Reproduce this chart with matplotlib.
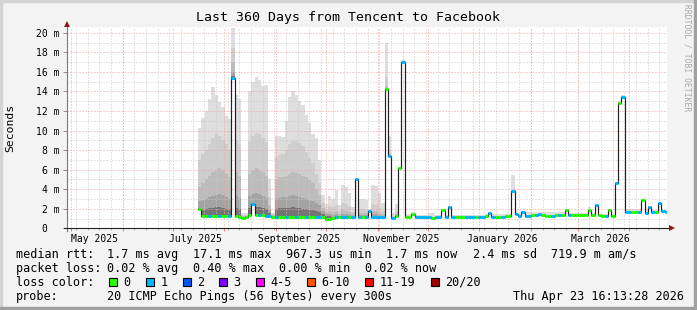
import matplotlib
matplotlib.use('Agg')
import matplotlib.pyplot as plt
import numpy as np
from datetime import datetime, timedelta
from matplotlib.patches import Rectangle
import matplotlib.transforms as mtrans

W, H = 697, 310
MONO = 'DejaVu Sans Mono'

# ---------------- data ----------------
graph_end = datetime(2026, 4, 23, 16, 13, 28)
graph_start = graph_end - timedelta(days=360)
first_bin = datetime(2025, 7, 16, 6, 37)
bin_days = 2.0

median_ms = [2.0, 1.25, 1.25, 1.3, 1.25, 1.25, 1.3, 1.25, 1.25, 1.3,
             15.4, 1.25, 1.2, 1.05, 1.15, 1.4, 2.5, 1.4, 1.4, 1.35,
             1.3, 1.25, 1.2, 1.2, 1.2, 1.2, 1.2, 1.2, 1.2, 1.2,
             1.2, 1.2, 1.2, 1.15, 1.2, 1.15, 1.15, 1.15, 1.0, 0.95,
             1.05, 1.15, 1.15, 1.2, 1.2, 1.2, 1.15, 5.0, 1.2, 1.2,
             1.2, 1.8, 1.2, 1.2, 1.15, 1.2, 14.3, 7.4, 1.1, 1.3,
             6.2, 17.0, 1.15, 1.2, 1.5, 1.15, 1.15, 1.2, 1.2, 1.15,
             1.1, 1.15, 1.2, 1.9, 1.2, 2.2, 1.2, 1.2, 1.2, 1.2,
             1.2, 1.15, 1.2, 1.15, 1.2, 1.15, 1.25, 1.6, 1.2, 1.2,
             1.2, 1.2, 1.25, 1.3, 3.8, 1.5, 1.25, 1.7, 1.3, 1.3,
             1.35, 1.4, 1.45, 1.35, 1.3, 1.25, 1.3, 1.35, 1.4, 1.4,
             1.9, 1.4, 1.35, 1.4, 1.4, 1.4, 1.4, 1.9, 1.4, 2.4,
             1.35, 1.3, 1.3, 1.9, 1.3, 4.6, 12.8, 13.4, 1.65, 1.65,
             1.7, 1.7, 1.7, 2.9, 1.6, 2.2, 1.7, 1.7, 2.6, 1.8, 1.7]

loss_bucket = [0, 0, 0, 1, 0, 0, 1, 0, 0, 1,
               1, 0, 0, 0, 0, 0, 1, 0, 1, 0,
               1, 1, 0, 1, 0, 0, 1, 0, 0, 1,
               0, 0, 1, 0, 0, 1, 1, 0, 0, 0,
               0, 1, 0, 1, 1, 0, 1, 1, 1, 0,
               1, 1, 1, 1, 1, 1, 0, 1, 1, 0,
               0, 1, 0, 0, 0, 1, 1, 1, 1, 1,
               0, 1, 1, 0, 1, 1, 1, 0, 0, 0,
               1, 1, 1, 0, 1, 1, 0, 1, 1, 0,
               0, 1, 0, 0, 1, 1, 1, 1, 1, 1,
               0, 1, 1, 0, 0, 0, 1, 0, 1, 0,
               0, 1, 0, 0, 0, 0, 0, 0, 0, 1,
               0, 0, 1, 0, 0, 1, 0, 1, 1, 1,
               0, 0, 1, 0, 1, 1, 1, 0, 1, 1, 1]

smoke_max = [10.3, 11.3, 12.0, 13.2, 14.5, 13.6, 12.9, 12.4, 11.5, 11.2,
             20.5, 13.6, 13.2, 1.6, 1.6, 14.0, 15.0, 15.5, 15.2, 14.6,
             14.7, 5.0, 1.6, 9.4, 9.4, 9.3, 11.0, 13.4, 14.0, 13.6,
             13.0, 12.6, 11.6, 10.8, 9.6, 9.2, 7.0, 3.4, 2.5, 3.3,
             3.0, 3.9, 2.4, 4.4, 4.2, 3.6, 2.2, 5.1, 3.0, 3.0,
             2.9, 2.0, 4.4, 4.3, 3.6, 2.6, 19.0, 9.4, 1.6, 2.5,
             6.3, 17.2, 1.5, 1.5, 1.7, 1.4, 1.4, 1.4, 1.4, 1.6,
             1.6, 1.4, 1.4, 2.0, 1.4, 2.3, 1.4, 1.4, 1.4, 1.4,
             1.4, 1.4, 1.4, 1.4, 1.4, 1.4, 1.5, 1.7, 1.45, 1.45,
             1.45, 1.45, 1.45, 1.45, 5.5, 1.8, 1.5, 1.8, 1.65, 1.65,
             1.65, 1.65, 1.65, 1.65, 1.65, 1.65, 1.65, 1.65, 1.65, 1.65,
             2.0, 1.6, 1.6, 1.6, 1.6, 1.6, 1.6, 2.2, 1.6, 2.5,
             1.5, 1.5, 1.5, 2.0, 1.5, 4.7, 13.0, 13.6, 2.0, 2.0,
             2.0, 2.0, 2.0, 3.0, 1.9, 2.3, 1.9, 1.9, 2.7, 1.9, 1.9]

# inner smoke layers (first 61 bins, Jul-Nov 2025)
smoke_l2 = [7.0, 7.6, 8.0, 8.6, 9.2, 9.6, 9.4, 9.0, 8.6, 8.0,
            18.5, 9.0, 8.6, 1.35, 1.4, 8.8, 9.4, 9.8, 9.6, 9.2,
            8.8, 3.2, 1.45, 7.3, 7.5, 7.6, 8.0, 8.6, 8.9, 8.9,
            8.7, 8.4, 7.8, 7.2, 6.7, 5.6, 4.6, 2.6, 2.0, 2.3,
            2.2, 2.4, 1.8, 2.6, 2.5, 2.3, 1.7, 5.0, 2.0, 2.0,
            1.9, 1.9, 2.5, 2.4, 2.1, 1.8, 15.5, 8.0, 1.3, 1.8,
            6.2]
smoke_l3 = [4.2, 4.6, 5.0, 5.4, 5.8, 6.0, 6.2, 6.0, 5.6, 5.2,
            17.0, 5.8, 5.4, 1.25, 1.3, 5.6, 6.0, 6.2, 6.0, 5.8,
            5.4, 2.4, 1.35, 5.0, 5.2, 5.3, 5.4, 5.6, 5.8, 5.7,
            5.6, 5.4, 5.2, 4.9, 4.6, 4.0, 3.4, 2.1, 1.7, 1.8,
            1.7, 1.8, 1.5, 1.9, 1.8, 1.7, 1.5, 5.0, 1.6, 1.6,
            1.6, 1.85, 1.8, 1.8, 1.6, 1.5, 14.6, 7.6, 1.2, 1.5,
            6.2]
smoke_l4 = [2.8, 2.9, 3.0, 3.2, 3.3, 3.4, 3.5, 3.4, 3.2, 3.0,
            16.0, 3.3, 3.1, 1.15, 1.25, 3.3, 3.5, 3.6, 3.5, 3.3,
            3.1, 1.9, 1.3, 3.0, 3.1, 3.2, 3.2, 3.3, 3.4, 3.3,
            3.2, 3.1, 3.0, 2.9, 2.8, 2.6, 2.4, 1.8, 1.5, 1.5,
            1.4, 1.5, 1.3, 1.5, 1.5, 1.4, 1.3, 5.0, 1.4, 1.4,
            1.4, 1.8, 1.5, 1.5, 1.4, 1.3, 14.4, 7.5, 1.15, 1.4,
            6.2]
smoke_l5 = [2.1, 1.9, 2.0, 2.1, 2.1, 2.2, 2.2, 2.1, 2.0, 2.0,
            15.6, 2.1, 2.0, 1.1, 1.2, 2.1, 2.6, 2.2, 2.2, 2.1,
            2.0, 1.6, 1.25, 2.0, 2.1, 2.1, 2.1, 2.1, 2.2, 2.1,
            2.1, 2.0, 2.0, 1.9, 1.9, 1.8, 1.7, 1.5, 1.3, 1.3,
            1.2, 1.3, 1.2, 1.3, 1.3, 1.3, 1.2, 5.0, 1.3, 1.3,
            1.3, 1.8, 1.3, 1.3, 1.2, 1.2, 14.3, 7.4, 1.1, 1.3,
            6.2]

loss_labels = ['0', '1', '2', '3', '4-5', '6-10', '11-19', '20/20']
loss_colors = ['#26ff00', '#00b8ff', '#0059ff', '#7e00ff',
               '#ff00ff', '#ff5500', '#ff0000', '#a10000']

title = 'Last 360 Days from Tencent to Facebook'
month_label_names = ['May 2025', 'July 2025', 'September 2025',
                     'November 2025', 'January 2026', 'March 2026']

# ---------------- helpers ----------------
def day_of(t):
    return (t - graph_start).total_seconds() / 86400.0

n = len(median_ms)
edges = day_of(first_bin) + bin_days * np.arange(n + 1)
med = np.array(median_ms)

fig = plt.figure(figsize=(W / 100, H / 100), dpi=100)
fig.patch.set_facecolor('#f3f3f3')
# 3D frame shading
fig.add_artist(Rectangle((0, 1 - 2 / H), 1, 2 / H, transform=fig.transFigure, color='#d4d4d4', zorder=0))
fig.add_artist(Rectangle((0, 0), 2 / W, 1, transform=fig.transFigure, color='#d4d4d4', zorder=0))
fig.add_artist(Rectangle((0, 0), 1, 3 / H, transform=fig.transFigure, color='#a0a0a0', zorder=0))
fig.add_artist(Rectangle((1 - 3 / W, 0), 3 / W, 1, transform=fig.transFigure, color='#a0a0a0', zorder=0))

ax_l, ax_r, ax_top, ax_bot = 67, 667, 27, 228.3
ax = fig.add_axes([ax_l / W, (H - ax_bot) / H, (ax_r - ax_l) / W, (ax_bot - ax_top) / H])
ax.set_facecolor('white')
ax.set_xlim(0, 360)
ax.set_ylim(0, 20.6)
for s in ax.spines.values():
    s.set_visible(False)

# smoke
base = med - 0.12
ax.stairs(smoke_max, edges, baseline=base, fill=True, color='#dedede', lw=0, zorder=1)
m = len(smoke_l2)
for lay, col in [(smoke_l2, '#cecece'), (smoke_l3, '#bcbcbc'),
                 (smoke_l4, '#a4a4a4'), (smoke_l5, '#747474')]:
    ax.stairs(lay, edges[:m + 1], baseline=base[:m], fill=True, color=col, lw=0, zorder=1)

# grid
dot = (0, (1, 2))
for v in np.arange(1, 21, 1):
    if v % 2 == 0:
        ax.axhline(v, color='#f0a0a0', lw=0.72, ls=dot, zorder=2)
    else:
        ax.axhline(v, color='#c8c8c8', lw=0.72, ls=dot, zorder=2)

month_starts = []
y, mo = 2025, 5
while True:
    d = day_of(datetime(y, mo, 1))
    if d > 360:
        break
    month_starts.append(d)
    mo += 1
    if mo > 12:
        mo, y = 1, y + 1
sundays = []
d0 = day_of(datetime(2025, 4, 27))
k = 1
while d0 + 7 * k < 360:
    sundays.append(d0 + 7 * k)
    k += 1
for d in sundays:
    ax.axvline(d, color='#c8c8c8', lw=0.72, ls=dot, zorder=2)
for d in month_starts:
    ax.axvline(d, color='#f0a0a0', lw=0.72, ls=dot, zorder=2)

# median line and loss-coloured band
ax.stairs(med, edges, baseline=None, color='#202020', lw=0.85, zorder=3)
ax.hlines(med, edges[:-1], edges[1:], colors=[loss_colors[b] for b in loss_bucket],
          lw=2.2, zorder=4)

# axes lines + arrows
tr = ax.transAxes
ax.plot([0, 0], [-0.015, 1.01], color='#777777', lw=0.8, transform=tr, clip_on=False, zorder=5)
ax.plot([-0.005, 1.006], [0, 0], color='#222222', lw=0.8, transform=tr, clip_on=False, zorder=5)
ax.plot([0], [1.015], marker='^', ms=4.5, color='#8b1a1a', mew=0, transform=tr, clip_on=False, zorder=6)
ax.plot([1.008], [0], marker='>', ms=4.5, color='#8b1a1a', mew=0, transform=tr, clip_on=False, zorder=6)

# ticks
ax.set_yticks(range(0, 21, 2))
ax.set_yticklabels(['0  '] + [f'{v} m' for v in range(2, 21, 2)], family=MONO, fontsize=7)
ax.tick_params(axis='y', length=2.9, width=0.72, color='#909090', pad=2.6, labelcolor='black')
ax.set_xticks(month_starts)
ax.set_xticks(sundays, minor=True)
ax.tick_params(axis='x', which='major', length=2.2, width=0.72, color='#f08080', labelbottom=False)
ax.tick_params(axis='x', which='minor', length=1.5, width=0.72, color='#b0b0b0', labelbottom=False)
ax.tick_params(axis='y', which='minor', left=False)

blend = mtrans.blended_transform_factory(ax.transData, ax.transAxes)
label_days = [day_of(datetime(2025, 5, 15)), day_of(datetime(2025, 7, 15)),
              day_of(datetime(2025, 9, 15)), day_of(datetime(2025, 11, 15)),
              day_of(datetime(2026, 1, 15)), day_of(datetime(2026, 3, 15))]
yl = (ax_bot - 239.5) / (ax_bot - ax_top)
for d, lab in zip(label_days, month_label_names):
    ax.text(d, yl, lab, transform=blend, ha='center', va='center', family=MONO, fontsize=7)

def ftext(x, y, s, **kw):
    kw.setdefault('family', MONO)
    kw.setdefault('fontsize', 8.5)
    kw.setdefault('va', 'center')
    fig.text(x / W, 1 - y / H, s, **kw)

ftext(347.5, 18, title, ha='center', fontsize=9.5)
ftext(10, 128, 'Seconds', ha='center', rotation=90, fontsize=8.2)
ftext(687, 58, 'RRDTOOL / TOBI OETIKER', ha='center', rotation=270, fontsize=5.8, color='#a8a8a8')

r1, r2, r3, r4 = 254.3, 268.3, 282.3, 296.5
for x, s in [(16, 'median rtt:'), (107, '1.7 ms avg'), (193, '17.1 ms max'),
             (286, '967.3 us min'), (386, '1.7 ms now'), (473, '2.4 ms sd'),
             (551, '719.9 m am/s')]:
    ftext(x, r1, s)
for x, s in [(16, 'packet loss:'), (107, '0.02 % avg'), (193, '0.40 % max'),
             (279, '0.00 % min'), (365, '0.02 % now')]:
    ftext(x, r2, s)
ftext(16, r3, 'loss color:')
box_x = [108.7, 145.7, 182.7, 219, 256, 307, 365, 430.7]
for bx, lab, col in zip(box_x, loss_labels, loss_colors):
    fig.add_artist(Rectangle((bx / W, 1 - 286.3 / H), 8 / W, 8 / H, transform=fig.transFigure,
                             facecolor=col, edgecolor='black', lw=0.8))
    ftext(bx + 14.5, r3, lab)
ftext(16, r4, 'probe:')
ftext(107, r4, '20 ICMP Echo Pings (56 Bytes) every 300s')
ftext(513, r4, 'Thu Apr 23 16:13:28 2026')

fig.savefig('out.png', dpi=100, facecolor=fig.get_facecolor())
